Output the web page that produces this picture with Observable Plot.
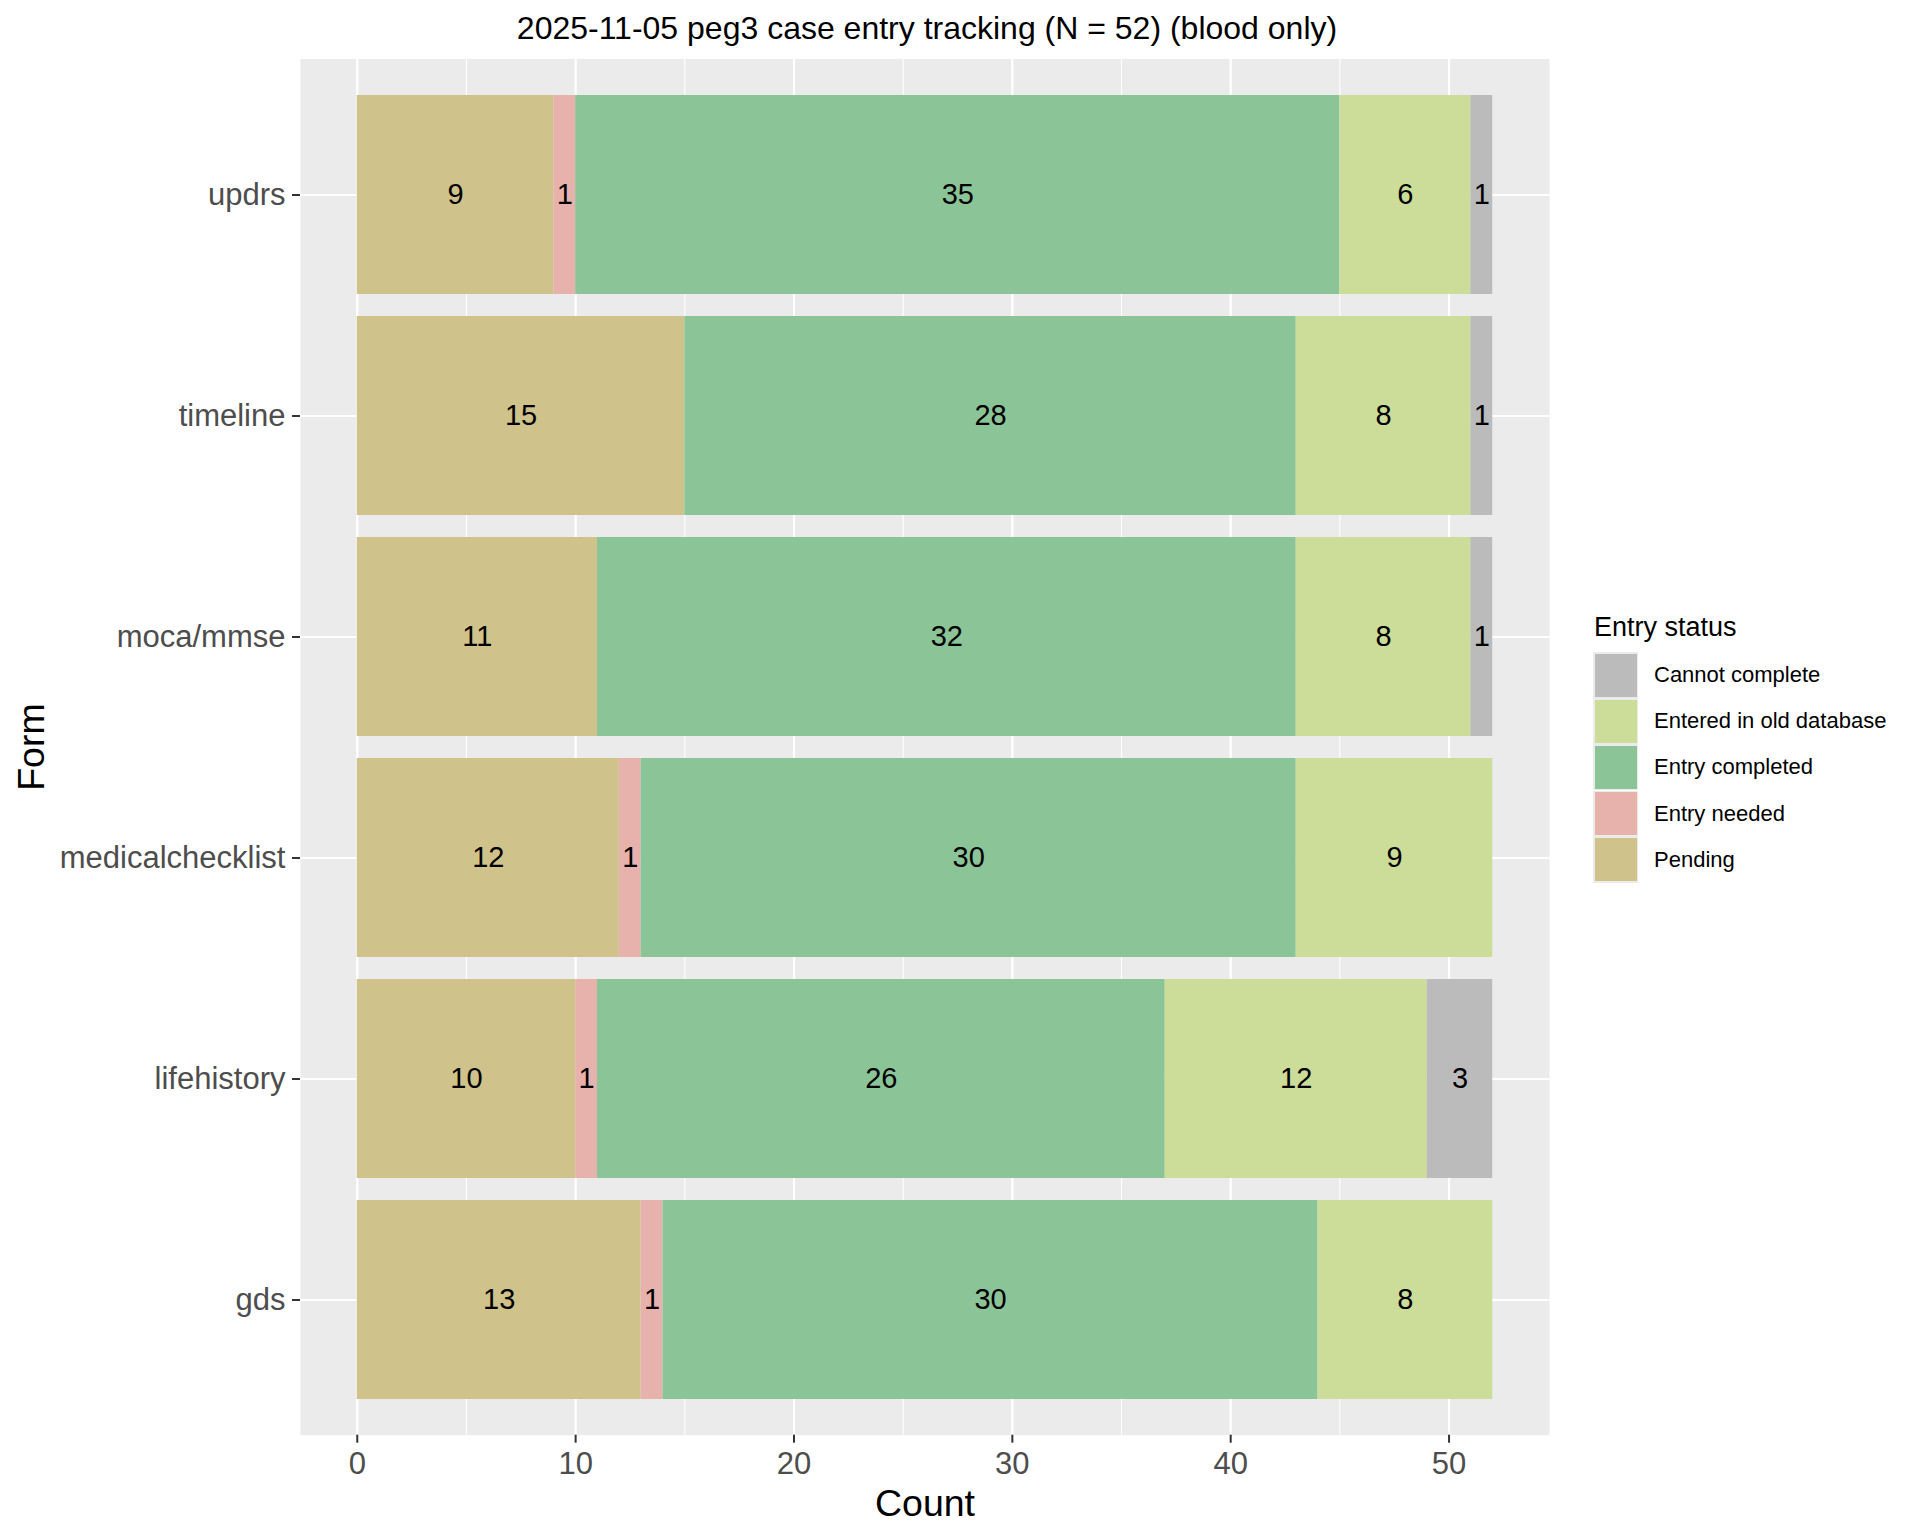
<!DOCTYPE html>
<html>
<head>
<meta charset="utf-8">
<script src="https://cdn.jsdelivr.net/npm/d3@7"></script>
<script src="https://cdn.jsdelivr.net/npm/@observablehq/plot@0.6"></script>
<style>
  html, body { margin: 0; padding: 0; background: #fff; }
  #wrap { position: relative; width: 1920px; height: 1536px; font-family: "Liberation Sans", Arial, sans-serif; }
  #chart { position: absolute; left: 0; top: 0; }
  .lg-title { position: absolute; left: 1594px; top: 614px; font-size: 27px; line-height: 1; color: #000; white-space: nowrap; }
  .lg-key { position: absolute; left: 1593px; width: 45px; height: 46px; background: #EBEBEB; }
  .lg-key > div { position: absolute; left: 1.5px; top: 1.5px; right: 1.5px; bottom: 1.5px; }
  .lg-label { position: absolute; left: 1654px; height: 46px; display: flex; align-items: center; font-size: 22px; color: #000; white-space: nowrap; }
</style>
</head>
<body>
<div id="wrap">
  <div id="chart"></div>
</div>
<script>
// ---- data ----
const title = "2025-11-05 peg3 case entry tracking (N = 52) (blood only)";
const forms = ["updrs", "timeline", "moca/mmse", "medicalchecklist", "lifehistory", "gds"];
const statuses = ["Pending", "Entry needed", "Entry completed", "Entered in old database", "Cannot complete"];
const statusColors = ["#CFC28A", "#E8B2AC", "#8BC497", "#CBDD99", "#BBBBBB"];
const pending        = [9, 15, 11, 12, 10, 13];
const entryNeeded    = [1, 0, 0, 1, 1, 1];
const entryCompleted = [35, 28, 32, 30, 26, 30];
const enteredOldDb   = [6, 8, 8, 9, 12, 8];
const cannotComplete = [1, 1, 1, 0, 3, 0];
const legendOrder = ["Cannot complete", "Entered in old database", "Entry completed", "Entry needed", "Pending"];
const majorTicks = [0, 10, 20, 30, 40, 50];
const minorTicks = [5, 15, 25, 35, 45];

const seriesByStatus = [pending, entryNeeded, entryCompleted, enteredOldDb, cannotComplete];
const rows = [];
forms.forEach((f, i) => {
  statuses.forEach((s, j) => {
    const v = seriesByStatus[j][i];
    if (v > 0) rows.push({form: f, status: s, count: v});
  });
});

const font = "'Liberation Sans', Arial, sans-serif";

const plot = Plot.plot({
  width: 1920,
  height: 1536,
  marginTop: 58.5,
  marginBottom: 101.3,
  marginLeft: 300,
  marginRight: 371,
  style: {fontFamily: font, background: "#fff", overflow: "visible"},
  x: {domain: [-2.6, 54.6]},
  y: {type: "band", domain: forms, paddingInner: 0.1, paddingOuter: 0.15, align: 0.5},
  color: {domain: statuses, range: statusColors},
  marks: [
    Plot.frame({fill: "#EBEBEB", stroke: null}),
    Plot.gridX({ticks: minorTicks, stroke: "#ffffff", strokeOpacity: 1, strokeWidth: 1.1}),
    Plot.gridX({ticks: majorTicks, stroke: "#ffffff", strokeOpacity: 1, strokeWidth: 2.2}),
    Plot.gridY({stroke: "#ffffff", strokeOpacity: 1, strokeWidth: 2.2}),
    Plot.barX(rows, Plot.stackX({x: "count", y: "form", fill: "status"})),
    Plot.text(rows, Plot.stackX({x: "count", y: "form", text: d => String(d.count), fill: "#000", fontSize: 29})),
    Plot.axisX({ticks: majorTicks, tickSize: 8, tickPadding: 9, fontSize: 31, fill: "#4D4D4D", stroke: "#333333", strokeWidth: 2, label: null}),
    Plot.axisY({tickSize: 8, tickPadding: 7, fontSize: 31, fill: "#4D4D4D", stroke: "#333333", strokeWidth: 2, label: null}),
    Plot.text([title], {frameAnchor: "top", lineAnchor: "bottom", textAnchor: "middle", dx: 2, dy: -20.2, fontSize: 32, fill: "#000"}),
    Plot.text(["Count"], {frameAnchor: "bottom", lineAnchor: "bottom", textAnchor: "middle", dy: 80.3, fontSize: 37.5, fill: "#000"}),
    Plot.text(["Form"], {frameAnchor: "left", lineAnchor: "bottom", textAnchor: "middle", rotate: -90, dx: -257, fontSize: 37.5, fill: "#000"})
  ]
});
document.getElementById("chart").appendChild(plot);

// ---- legend ----
const wrap = document.getElementById("wrap");
const lt = document.createElement("div");
lt.className = "lg-title";
lt.textContent = "Entry status";
wrap.appendChild(lt);
legendOrder.forEach((s, i) => {
  const top = 652 + i * 46.2;
  const key = document.createElement("div");
  key.className = "lg-key";
  key.style.top = top + "px";
  const inner = document.createElement("div");
  inner.style.background = statusColors[statuses.indexOf(s)];
  key.appendChild(inner);
  wrap.appendChild(key);
  const lab = document.createElement("div");
  lab.className = "lg-label";
  lab.style.top = top + "px";
  lab.textContent = s;
  wrap.appendChild(lab);
});
</script>
</body>
</html>
